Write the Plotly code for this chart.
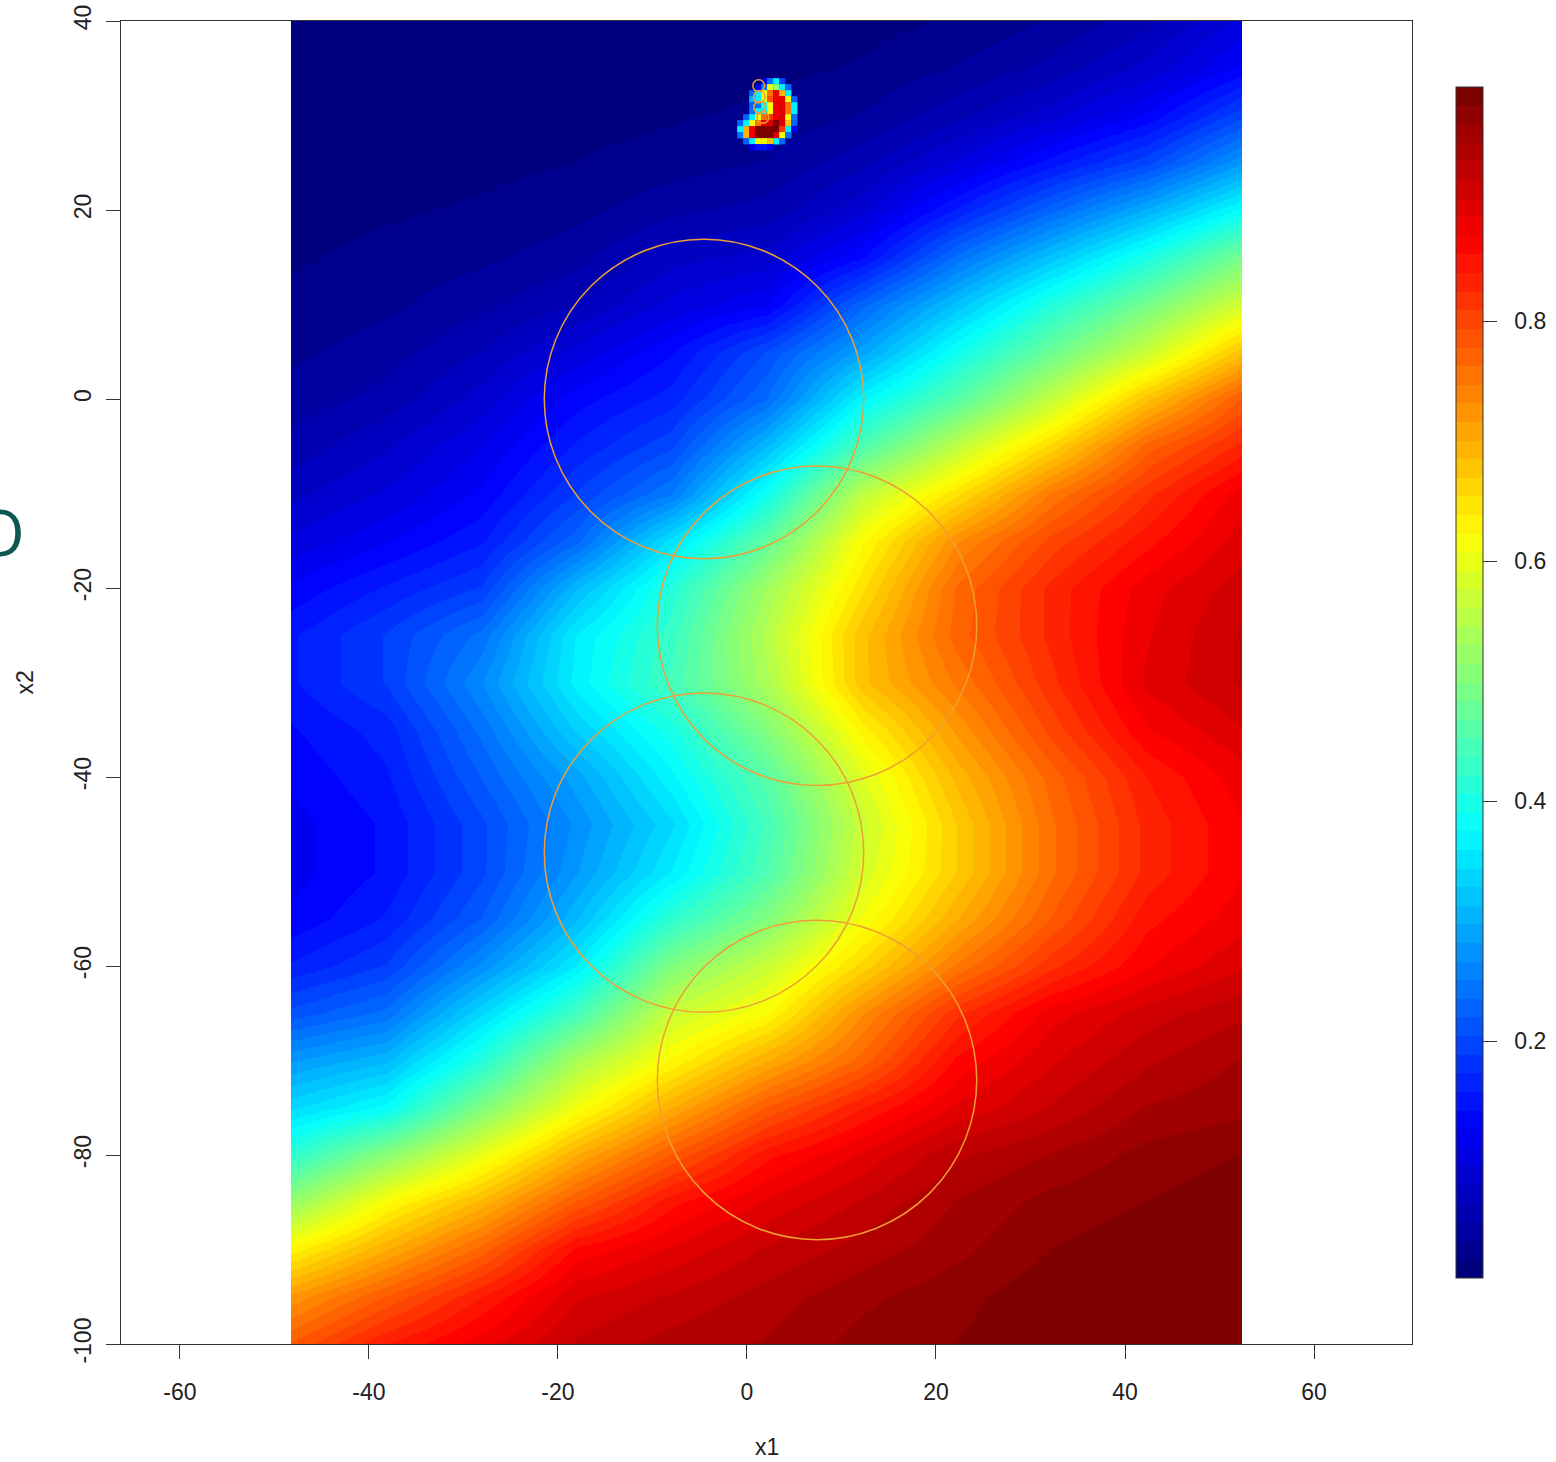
import plotly.graph_objects as go

# ---------------- data ----------------
x1_nodes = [-48.25, -38.19, -28.12, -18.06, -8.0, 2.06, 12.13, 22.19, 32.25, 42.31, 52.38]
x2_nodes = [40, 35, 30, 25, 20, 15, 10, 5, 0, -5, -10, -15, -20, -25, -30,
            -35, -40, -45, -50, -55, -60, -65, -70, -75, -80, -85, -90, -95, -100]

# estimated probability surface, one row per x2 node (top to bottom)
prob_rows = [
    [0.003, 0.003, 0.003, 0.004, 0.005, 0.008, 0.012, 0.02, 0.035, 0.06, 0.10],
    [0.004, 0.005, 0.006, 0.007, 0.010, 0.013, 0.020, 0.035, 0.055, 0.085, 0.13],
    [0.006, 0.008, 0.010, 0.012, 0.016, 0.022, 0.035, 0.06, 0.09, 0.13, 0.20],
    [0.009, 0.012, 0.014, 0.018, 0.026, 0.035, 0.06, 0.10, 0.15, 0.20, 0.28],
    [0.012, 0.016, 0.020, 0.028, 0.045, 0.055, 0.09, 0.16, 0.23, 0.30, 0.38],
    [0.016, 0.022, 0.030, 0.043, 0.075, 0.085, 0.14, 0.24, 0.32, 0.40, 0.49],
    [0.022, 0.030, 0.045, 0.065, 0.100, 0.125, 0.23, 0.32, 0.41, 0.49, 0.58],
    [0.030, 0.042, 0.065, 0.100, 0.140, 0.205, 0.29, 0.39, 0.48, 0.57, 0.68],
    [0.040, 0.055, 0.087, 0.135, 0.165, 0.235, 0.37, 0.46, 0.565, 0.68, 0.78],
    [0.055, 0.078, 0.110, 0.16, 0.20, 0.31, 0.45, 0.56, 0.66, 0.77, 0.83],
    [0.075, 0.098, 0.130, 0.19, 0.25, 0.39, 0.56, 0.65, 0.75, 0.82, 0.88],
    [0.100, 0.125, 0.155, 0.23, 0.35, 0.47, 0.62, 0.73, 0.80, 0.85, 0.895],
    [0.130, 0.160, 0.190, 0.31, 0.41, 0.53, 0.65, 0.765, 0.83, 0.88, 0.91],
    [0.155, 0.190, 0.240, 0.36, 0.43, 0.55, 0.68, 0.77, 0.83, 0.885, 0.92],
    [0.155, 0.190, 0.265, 0.365, 0.44, 0.54, 0.68, 0.75, 0.82, 0.89, 0.92],
    [0.140, 0.165, 0.240, 0.33, 0.40, 0.50, 0.63, 0.72, 0.80, 0.87, 0.90],
    [0.130, 0.155, 0.220, 0.29, 0.37, 0.46, 0.59, 0.69, 0.77, 0.84, 0.88],
    [0.120, 0.145, 0.200, 0.27, 0.34, 0.44, 0.57, 0.67, 0.76, 0.83, 0.87],
    [0.120, 0.145, 0.200, 0.28, 0.36, 0.45, 0.58, 0.67, 0.76, 0.83, 0.87],
    [0.130, 0.160, 0.220, 0.31, 0.42, 0.50, 0.61, 0.70, 0.78, 0.85, 0.88],
    [0.160, 0.190, 0.270, 0.36, 0.50, 0.57, 0.66, 0.75, 0.82, 0.87, 0.90],
    [0.210, 0.240, 0.340, 0.44, 0.57, 0.62, 0.73, 0.82, 0.88, 0.91, 0.93],
    [0.280, 0.310, 0.410, 0.54, 0.625, 0.70, 0.77, 0.86, 0.90, 0.93, 0.95],
    [0.340, 0.380, 0.500, 0.61, 0.70, 0.78, 0.84, 0.89, 0.92, 0.95, 0.96],
    [0.420, 0.510, 0.600, 0.70, 0.78, 0.85, 0.89, 0.93, 0.95, 0.97, 0.98],
    [0.520, 0.620, 0.690, 0.78, 0.85, 0.89, 0.92, 0.95, 0.97, 0.98, 0.99],
    [0.630, 0.700, 0.770, 0.86, 0.89, 0.92, 0.94, 0.96, 0.98, 0.99, 0.99],
    [0.720, 0.780, 0.840, 0.90, 0.92, 0.94, 0.96, 0.975, 0.99, 0.99, 0.995],
    [0.780, 0.840, 0.880, 0.92, 0.94, 0.95, 0.97, 0.98, 0.99, 0.995, 0.995],
]

# small high-probability patch near the top (cell centres)
blob_x1 = [-0.71, -0.08, 0.56, 1.19, 1.83, 2.46, 3.10, 3.73, 4.37, 5.00]
blob_x2 = [33.62, 32.99, 32.35, 31.72, 31.08, 30.45, 29.81, 29.18, 28.54, 27.91, 27.27, 26.64]
N = None
blob_rows = [
    [N, N, N, N, 0.12, 0.25, 0.37, 0.20, N, N],
    [N, N, N, 0.12, 0.25, 0.60, 0.50, 0.37, 0.22, N],
    [N, N, 0.22, 0.37, 0.62, 0.75, 0.88, 0.70, 0.37, N],
    [N, N, 0.30, 0.37, 0.62, 0.78, 0.88, 0.88, 0.60, 0.22],
    [N, N, 0.22, 0.25, 0.40, 0.62, 0.88, 0.90, 0.75, 0.37],
    [N, N, 0.25, 0.37, 0.37, 0.62, 0.88, 0.90, 0.75, 0.37],
    [N, 0.22, 0.37, 0.62, 0.75, 0.82, 0.88, 0.90, 0.62, 0.25],
    [0.22, 0.37, 0.62, 0.75, 0.88, 0.90, 0.98, 0.90, 0.68, 0.22],
    [0.37, 0.70, 0.88, 0.98, 1.00, 1.00, 0.98, 0.82, 0.37, 0.12],
    [0.25, 0.70, 0.88, 0.98, 1.00, 1.00, 0.90, 0.62, 0.25, N],
    [N, 0.22, 0.37, 0.62, 0.62, 0.68, 0.37, 0.22, N, N],
    [N, N, 0.12, 0.15, 0.15, 0.12, N, N, N, N],
]

circle_x1 = [-4.55, 7.41, -4.55, 7.41]
circle_x2 = [0.0, -24.0, -48.0, -72.06]
circle_r = [16.9, 16.9, 16.9, 16.9]
small_x1 = [1.24, 1.30, 1.34, 1.69]
small_x2 = [33.15, 31.96, 30.87, 29.81]
small_r = [0.62, 0.62, 0.62, 0.62]

x_ticks = [-60, -40, -20, 0, 20, 40, 60]
y_ticks = [-100, -80, -60, -40, -20, 0, 20, 40]
cbar_ticks = [0.2, 0.4, 0.6, 0.8]
z_lo, z_hi = 0.0025, 0.995

# ---------------- colour scale: 64-step jet ----------------
anchors = ["#00007F", "#0000FF", "#007FFF", "#00FFFF", "#7FFF7F",
           "#FFFF00", "#FF7F00", "#FF0000", "#7F0000"]


def hex2rgb(h):
    return tuple(int(h[i:i + 2], 16) for i in (1, 3, 5))


def ramp(n):
    cols = []
    for i in range(n):
        t = i / (n - 1) * (len(anchors) - 1)
        k = min(int(t), len(anchors) - 2)
        f = t - k
        a, b = hex2rgb(anchors[k]), hex2rgb(anchors[k + 1])
        c = [round(a[j] + (b[j] - a[j]) * f) for j in range(3)]
        cols.append("rgb(%d,%d,%d)" % tuple(c))
    return cols


cols64 = ramp(64)
cscale = []
for i, c in enumerate(cols64):
    cscale.append([i / 64, c])
    cscale.append([(i + 1) / 64, c])

# ---------------- figure ----------------
W, H = 1556, 1462
L, R, T, B = 121, 144, 21, 118
pw, ph = W - L - R, H - T - B

fig = go.Figure()

fig.add_trace(go.Contour(
    x=x1_nodes, y=x2_nodes[::-1], z=prob_rows[::-1],
    colorscale=cscale, zmin=z_lo, zmax=z_hi, zauto=False,
    contours=dict(coloring="heatmap", showlines=False),
    line=dict(width=0), showscale=False, hoverinfo="skip",
))

# blob cells as square markers (drawn above the smooth surface)
bx, by, bz = [], [], []
for yv, row in zip(blob_x2, blob_rows):
    for xv, v in zip(blob_x1, row):
        if v is not None:
            bx.append(xv)
            by.append(yv)
            bz.append(v)

fig.add_trace(go.Scatter(
    x=bx, y=by, mode="markers", hoverinfo="skip",
    marker=dict(symbol="square", size=6.3, color=bz, colorscale=cscale,
                cmin=z_lo, cmax=z_hi, line=dict(width=0), showscale=True,
                colorbar=dict(
                    x=(1456 - L) / pw, xanchor="left", xpad=0,
                    y=0.5, yanchor="middle", ypad=0,
                    len=1191 / ph, lenmode="fraction",
                    thickness=27, thicknessmode="pixels",
                    outlinewidth=1, outlinecolor="#333333",
                    ticks="outside", ticklen=14, tickwidth=1, tickcolor="#333333",
                    tickvals=cbar_ticks,
                    ticktext=["\u00a0\u00a0" + str(v) for v in cbar_ticks],
                    tickfont=dict(family="Liberation Sans, Arial", size=23, color="#222222"),
                    borderwidth=0,
                )),
))

shapes = []
for cx, cy, r in zip(circle_x1 + small_x1, circle_x2 + small_x2, circle_r + small_r):
    shapes.append(dict(type="circle", xref="x", yref="y",
                       x0=cx - r, x1=cx + r, y0=cy - r, y1=cy + r,
                       line=dict(color="#EE9F35", width=1.5), layer="above"))

font = dict(family="Liberation Sans, Arial", size=23, color="#222222")

fig.update_layout(
    width=W, height=H,
    margin=dict(l=L, r=R, t=T, b=B, pad=0, autoexpand=False),
    paper_bgcolor="white", plot_bgcolor="white",
    shapes=shapes,
    showlegend=False,
    xaxis=dict(range=[-66.24, 70.37], tickvals=x_ticks, ticktext=[str(v) for v in x_ticks],
               ticks="outside", ticklen=14,
               tickwidth=1, tickcolor="#333333", showline=True, mirror=True,
               linecolor="#333333", linewidth=1, showgrid=False, zeroline=False,
               tickfont=font, ticklabelstandoff=13),
    yaxis=dict(range=[-100, 40], tickvals=y_ticks, ticktext=[str(v) for v in y_ticks],
               ticks="outside", ticklen=14,
               tickwidth=1, tickcolor="#333333", showline=True, mirror=True,
               linecolor="#333333", linewidth=1, showgrid=False, zeroline=False,
               tickfont=font, tickangle=-90, ticklabelstandoff=6),
    annotations=[
        dict(text="x1", xref="paper", yref="paper", x=0.5, y=(1344 - 1447) / ph,
             xanchor="center", yanchor="middle", showarrow=False, font=font),
        dict(text="x2", xref="paper", yref="paper", x=(24.5 - L) / pw, y=(1344 - 683) / ph,
             xanchor="center", yanchor="middle", showarrow=False, font=font, textangle=-90),
        dict(text="O", xref="paper", yref="paper", x=(0 - L) / pw, y=(1344 - 531) / ph,
             xanchor="center", yanchor="middle", showarrow=False,
             font=dict(family="Open Sans", size=64, color="#0f5753")),
    ],
)

fig.write_html("out.html")
